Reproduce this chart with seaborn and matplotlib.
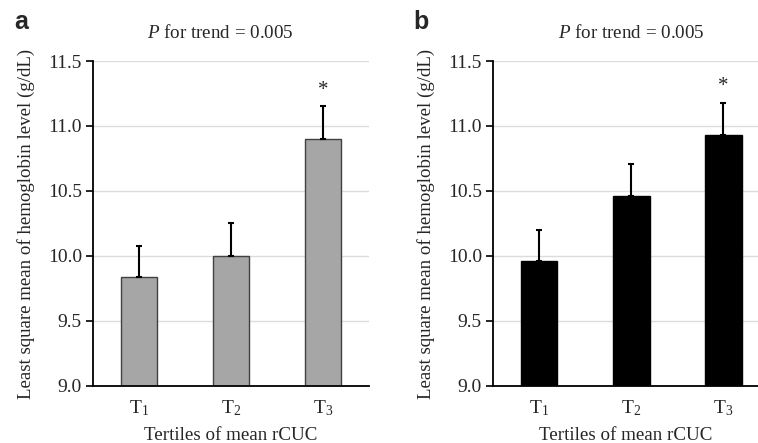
import numpy as np
import pandas as pd
import seaborn as sns
import matplotlib.pyplot as plt

sns.set_style('white')
plt.rcParams['font.family'] = ['Liberation Serif', 'DejaVu Serif']
plt.rcParams['mathtext.fontset'] = 'custom'
plt.rcParams['mathtext.rm'] = 'Liberation Serif'
plt.rcParams['mathtext.it'] = 'Liberation Serif:italic'

tertiles = ['T$_1$', 'T$_2$', 'T$_3$']
mean_a = [9.84, 10.00, 10.90]
err_a = [0.24, 0.25, 0.25]
mean_b = [9.96, 10.46, 10.93]
err_b = [0.24, 0.25, 0.25]
star = ['', '', '*']
yticks = [9.0, 9.5, 10.0, 10.5, 11.0, 11.5]

fig = plt.figure(figsize=(7.58, 4.43), dpi=100)
ax_a = fig.add_axes([0.1227, 0.1287, 0.364, 0.7336])
ax_b = fig.add_axes([0.6504, 0.1287, 0.350, 0.7336])

panels = [(ax_a, mean_a, err_a, '#a6a6a6', '#404040', 'a', 2.5, -0.286, 0.46),
          (ax_b, mean_b, err_b, '#000000', '#000000', 'b', 2.38, -0.302, 0.52)]

for ax, means, errs, fc, ec, letter, xmax, lx, tx in panels:
    df = pd.DataFrame({'tertile': tertiles, 'value': means})
    ax.yaxis.grid(True, color='#dcdcdc', lw=1)
    ax.set_axisbelow(True)
    sns.barplot(data=df, x='tertile', y='value', color=fc, width=0.4,
                edgecolor=ec, linewidth=1, saturation=1, ax=ax, zorder=2)
    ax.errorbar(range(len(means)), means, yerr=[np.zeros(len(errs)), errs],
                fmt='none', ecolor='black', elinewidth=1.5, capsize=2.5,
                capthick=1.5, zorder=3)
    for i, s in enumerate(star):
        if s:
            ax.text(i, means[i] + errs[i] + 0.05, s, ha='center', va='bottom',
                    fontsize=15)
    ax.set_ylim(9.0, 11.5)
    ax.set_xlim(-0.5, xmax)
    ax.set_yticks(yticks)
    ax.set_yticklabels([f'{t:.1f}' for t in yticks], fontsize=14)
    ax.tick_params(axis='x', labelsize=14, length=0, pad=9)
    ax.tick_params(axis='y', length=5, width=1.2, direction='out', color='black',
                   left=True, pad=3)
    for sp in ['top', 'right']:
        ax.spines[sp].set_visible(False)
    for sp in ['left', 'bottom']:
        ax.spines[sp].set_color('black')
        ax.spines[sp].set_linewidth(1.3)
    ax.set_xlabel('Tertiles of mean rCUC', fontsize=13.7, labelpad=6)
    ax.set_ylabel('Least square mean of hemoglobin level (g/dL)', fontsize=13.6,
                  labelpad=9)
    ax.text(tx, 1.086, '$P$ for trend = 0.005',
            transform=ax.transAxes, ha='center', va='center', fontsize=13.7)
    ax.text(lx, 1.12, letter, transform=ax.transAxes,
            ha='left', va='center', fontsize=18, fontweight='bold',
            family='Liberation Sans')

fig.savefig('out.png', dpi=100)
